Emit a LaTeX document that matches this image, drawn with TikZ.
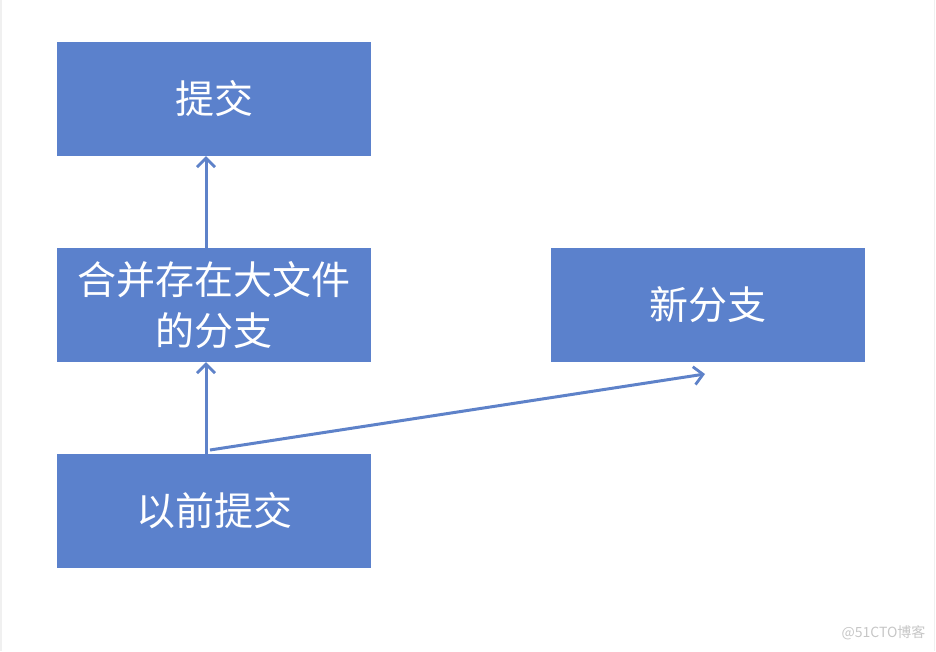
\documentclass[tikz,border=0pt]{standalone}
\usepackage{fontspec}
\newfontfamily\cjk{Noto Sans CJK SC}
\usetikzlibrary{arrows.meta}
\definecolor{boxblue}{HTML}{5B81CC}
\definecolor{lineblue}{HTML}{5E82C9}
\tikzset{
  block/.style={fill=boxblue, text=white, minimum width=314pt, minimum height=114pt,
    inner sep=0pt, align=center, font=\cjk\fontsize{39}{51}\selectfont},
  link/.style={draw=lineblue, line width=3pt, -{Straight Barb[length=9pt,width=18pt,line width=2.8pt]}}
}
\begin{document}
\begin{tikzpicture}[x=1pt,y=-1pt]
  \useasboundingbox (0,0) rectangle (936,651);
  \draw[gray!12, line width=1.5pt] (1,0) -- (1,651) (934.5,0) -- (934.5,651);
  \node[block] (commit) at (214,99) {提交};
  \node[block] (merge) at (214,305) {合并存在大文件\\的分支};
  \node[block] (newbranch) at (708,305) {新分支};
  \node[block] (prev) at (214,511) {以前提交};
  \coordinate (fork) at (210,450);
  \coordinate (tip) at (705,374);
  \draw[link] (prev.north -| 206,0) -- (merge.south -| 206,0);
  \draw[link] (merge.north -| 206,0) -- (commit.south -| 206,0);
  \draw[link] (fork) -- (tip);
  \node[text=gray!45, font=\cjk\fontsize{14}{16}\selectfont, anchor=east] (mark) at (929,633) {@51CTO博客};
\end{tikzpicture}
\end{document}
